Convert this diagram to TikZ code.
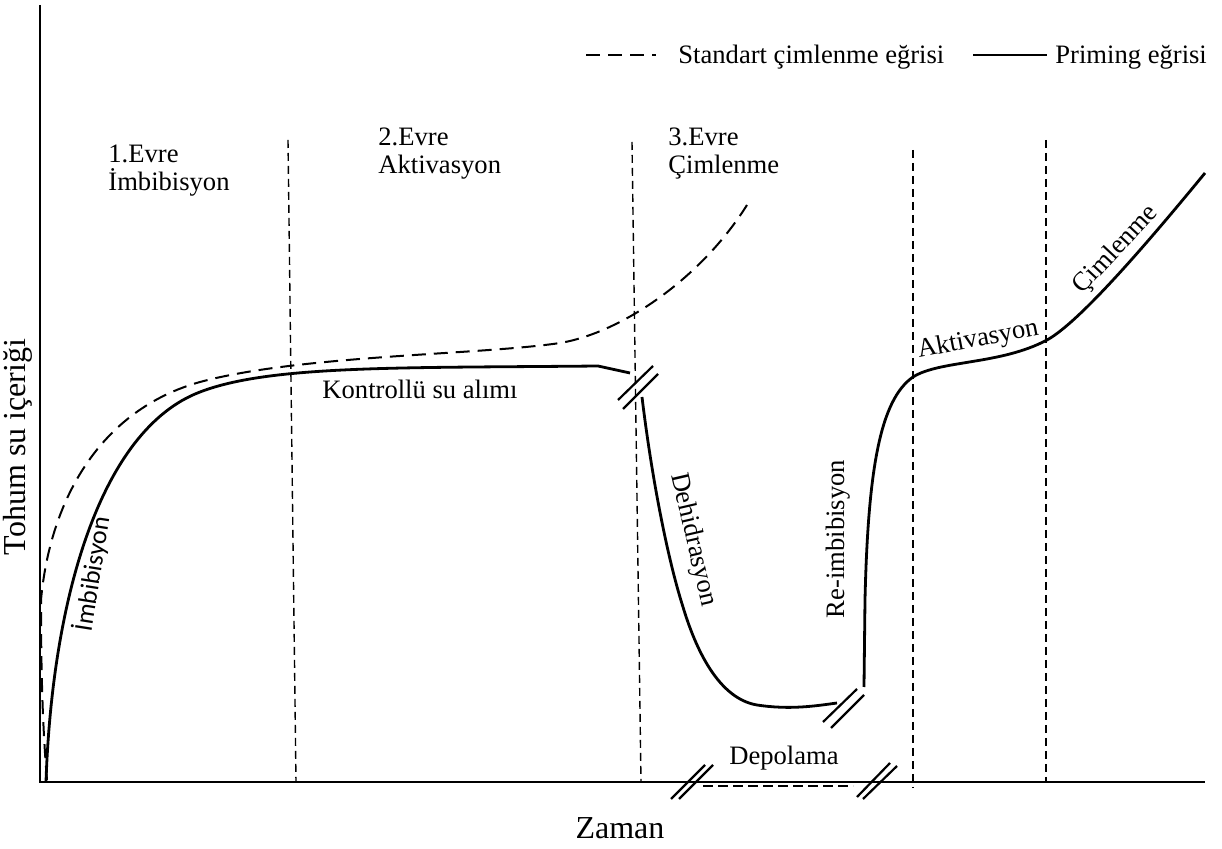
\documentclass[tikz,border=0pt]{standalone}
\usepackage{fontspec}
\setmainfont{Liberation Serif}
\newfontfamily\labelsans{Carlito}
\usetikzlibrary{positioning}

\begin{document}
\begin{tikzpicture}[x=0.5pt,y=0.5pt,
    phase/.style={black, line width=0.7pt, dash pattern=on 4pt off 2.5pt},
    standard/.style={black, line width=1pt, dash pattern=on 7pt off 4pt},
    priming/.style={black, line width=1.4pt},
    breakmark/.style={black, line width=1.1pt},
    txt/.style={font=\fontsize{13.3}{14}\selectfont},
    axislabel/.style={font=\fontsize{16}{18}\selectfont}]
                \tikzstyle{every node}+=[inner sep=0pt]
                \useasboundingbox (0,0) rectangle (1222,-849);
                % axes
                \draw [black, line width=1pt] (40,-5) -- (40,-782) -- (1205,-782);
                \node [axislabel, rotate=90] (ylabel) at (18,-447) {Tohum su içeriği};
                \node [axislabel] (xlabel) at (620,-828) {Zaman};
                % legend
                \draw [standard] (586,-55) -- (656,-55);
                \node [txt, anchor=west] (legstd) at (678,-57) {Standart çimlenme eğrisi};
                \draw [priming] (973,-55) -- (1047,-55);
                \node [txt, anchor=west] (legprm) at (1055,-57) {Priming eğrisi};
                % phases
                \draw [phase] (288,-140) -- (296,-782);
                \draw [phase] (632,-142) -- (641,-782);
                \draw [phase] (913,-150) -- (913,-788);
                \draw [phase] (1046,-140) -- (1046,-782);
                \node [txt, anchor=north west, align=left] (evrea) at (108,-145) {1.Evre\\İmbibisyon};
                \node [txt, anchor=north west, align=left] (evreb) at (378,-127) {2.Evre\\Aktivasyon};
                \node [txt, anchor=north west, align=left] (evrec) at (668,-127) {3.Evre\\Çimlenme};
                % standard curve
                \draw [standard] (47,-780) .. controls (42,-720) and (41,-660) .. (41,-600)
                  .. controls (50,-500) and (100,-410) .. (200,-382)
                  .. controls (300,-355) and (480,-355) .. (560,-343)
                  .. controls (620,-333) and (700,-280) .. (747,-205);
                % priming curve
                \draw [priming] (46,-782) .. controls (52,-600) and (100,-430) .. (200,-392)
                  .. controls (270,-365) and (400,-368) .. (598,-366) -- (630,-373);
                \draw [breakmark] (618,-400) -- (653,-366);
                \draw [breakmark] (623,-409) -- (658,-374);
                \draw [priming] (642,-397) .. controls (652,-480) and (668,-560) .. (683,-607)
                  .. controls (693,-640) and (715,-698) .. (757,-705)
                  .. controls (790,-710) and (815,-706) .. (837,-703);
                \draw [breakmark] (823,-722) -- (857,-689);
                \draw [breakmark] (831,-728) -- (864,-695);
                \draw [priming] (864,-687) -- (865,-600) .. controls (868,-470) and (880,-400) .. (913,-377)
                  .. controls (940,-360) and (1000,-365) .. (1047,-340)
                  .. controls (1080,-322) and (1150,-240) .. (1205,-173);
                % storage
                \draw [breakmark] (671,-799) -- (705,-765);
                \draw [breakmark] (679,-799) -- (713,-765);
                \draw [breakmark] (857,-797) -- (890,-763);
                \draw [breakmark] (863,-799) -- (897,-766);
                \draw [black, line width=0.9pt, dash pattern=on 5pt off 2.5pt] (703,-786) -- (853,-786);
                \node [txt] (depo) at (784,-758) {Depolama};
                % curve labels
                \node [txt] (kontrol) at (420,-389) {Kontrollü su alımı};
                \node [rotate=81, font=\labelsans\fontsize{13}{15}\selectfont] (imbib) at (92,-574) {İmbibisyon};
                \node [txt, rotate=-77] (dehid) at (693,-540) {Dehidrasyon};
                \node [txt, rotate=90] (reimb) at (838,-539) {Re-imbibisyon};
                \node [txt, rotate=11] (aktiv) at (978,-340) {Aktivasyon};
                \node [txt, rotate=47] (ciml) at (1116,-250) {Çimlenme};
              \end{tikzpicture}
\end{document}
